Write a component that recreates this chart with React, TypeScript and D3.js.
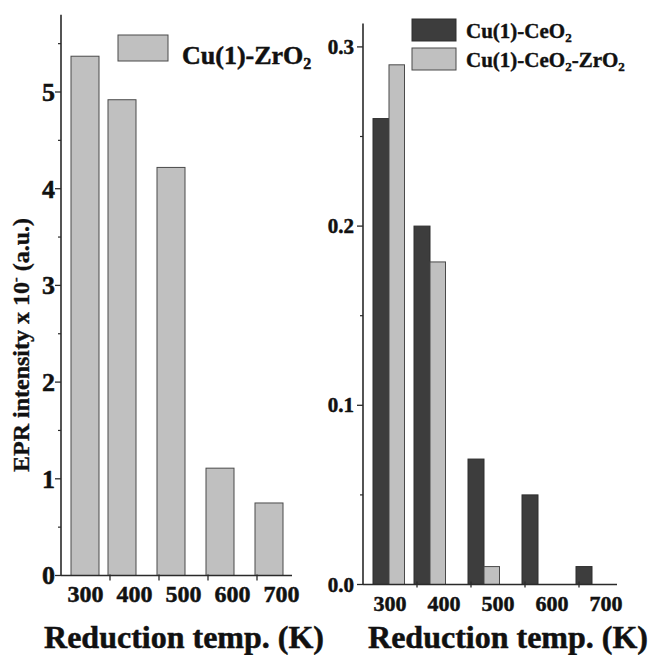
import React from "react";
import * as d3 from "d3";

// Reduction temperatures (K)
const temps = ["300", "400", "500", "600", "700"];

// EPR intensity, Cu(1)-ZrO2 (x 10^-)
const zrValues = [5.37, 4.92, 4.22, 1.11, 0.75];

// EPR intensity, ceria-based samples
const ceValues = [0.26, 0.2, 0.07, 0.05, 0.01];
const ceZrValues = [0.29, 0.18, 0.01, 0, 0];

const leftTicks = [0, 1, 2, 3, 4, 5];
const rightTicks = [0.0, 0.1, 0.2, 0.3];

const FONT = "'Liberation Serif', 'Times New Roman', serif";
const LIGHT = "#c0c0c0";
const DARK = "#3d3d3d";
const EDGE = "#4a4a4a";
const AXIS = "#2a2a2a";
const INK = "#111";

export default function App() {
  // ---- left panel ----
  const lAxisX = 61;
  const lAxisEnd = 292;
  const lBase = 575.5;
  const yL = d3.scaleLinear().domain([0, 5.8]).range([lBase, lBase - 5.8 * 96.7]);
  const xL = d3.scaleBand().domain(temps).range([lAxisX, lAxisX + 5 * 49]);
  const lMinor = d3.range(0.5, 5.8, 1);
  const lBarW = 28;

  // ---- right panel ----
  const rAxisX = 363;
  const rAxisEnd = 617;
  const rBase = 584.5;
  const yR = d3.scaleLinear().domain([0, 0.313]).range([rBase, rBase - 0.313 * 1792]);
  const xR = d3.scaleBand().domain(temps).range([rAxisX, rAxisX + 5 * 54]);
  const rMinor = [0.05, 0.15, 0.25];
  const rBarW = 16;

  // bars sit at the band start but are kept clear of the y axis
  const barLeftL = (t: string) => Math.max((xL(t) as number) - 2, lAxisX + 10);
  const barLeftR = (t: string) => Math.max((xR(t) as number) - 3, rAxisX + 10);

  // heavier glyphs for all labels
  const ink = { fill: INK, stroke: INK, strokeWidth: 0.5 };

  return (
    <div style={{ position: "absolute", left: 0, top: 0 }}>
      <svg width={652} height={655} style={{ display: "block", background: "#fff" }} fontFamily={FONT} fontWeight="bold">
        {/* ===== Left: Cu(1)-ZrO2 ===== */}
        {zrValues.map((v, i) => (
          <rect
            key={"zr" + i}
            x={barLeftL(temps[i])}
            y={yL(v)}
            width={lBarW}
            height={lBase - yL(v)}
            fill={LIGHT}
            stroke={EDGE}
            strokeWidth={1}
          />
        ))}
        <line x1={lAxisX} x2={lAxisX} y1={yL(5.8)} y2={lBase} stroke={AXIS} strokeWidth={1.6} />
        <line x1={lAxisX} x2={lAxisEnd} y1={lBase} y2={lBase} stroke={AXIS} strokeWidth={1.6} />
        {leftTicks.map((t) => (
          <g key={"lt" + t}>
            <line x1={lAxisX - 6} x2={lAxisX} y1={yL(t)} y2={yL(t)} stroke={AXIS} strokeWidth={1.3} />
            <text x={lAxisX - 6} y={yL(t)} dy="0.34em" textAnchor="end" fontSize={26} {...ink}>
              {d3.format("d")(t)}
            </text>
          </g>
        ))}
        {lMinor.map((t) => (
          <line key={"lm" + t} x1={lAxisX - 3} x2={lAxisX} y1={yL(t)} y2={yL(t)} stroke={AXIS} strokeWidth={1.2} />
        ))}
        {temps.slice(1).map((t) => (
          <line key={"lxt" + t} x1={xL(t)} x2={xL(t)} y1={lBase - 1} y2={lBase + 5} stroke={AXIS} strokeWidth={1.3} />
        ))}
        {temps.map((t) => (
          <text key={"lxl" + t} x={(xL(t) as number) + xL.bandwidth() / 2} y={602} textAnchor="middle" fontSize={24} {...ink}>
            {t}
          </text>
        ))}
        <text x={184} y={648} textAnchor="middle" fontSize={32} {...ink}>
          Reduction temp. (K)
        </text>
        <text transform="translate(29,345) rotate(-90)" textAnchor="middle" fontSize={24} {...ink} strokeWidth={0.35}>
          EPR intensity x 10
          <tspan fontSize={14} dy={-9}>-</tspan>
          <tspan dy={9}> (a.u.)</tspan>
        </text>
        {/* legend */}
        <rect x={118} y={35} width={50} height={26} fill={LIGHT} stroke={EDGE} strokeWidth={1} />
        <text x={182} y={64} fontSize={26} {...ink}>
          Cu(1)-ZrO<tspan fontSize={16} dy={5}>2</tspan>
        </text>

        {/* ===== Right: ceria-based samples ===== */}
        {ceValues.map((v, i) => (
          <rect
            key={"ce" + i}
            x={barLeftR(temps[i])}
            y={yR(v)}
            width={rBarW}
            height={rBase - yR(v)}
            fill={DARK}
            stroke="#2e2e2e"
            strokeWidth={1}
          />
        ))}
        {ceZrValues.map((v, i) =>
          v > 0 ? (
            <rect
              key={"cz" + i}
              x={barLeftR(temps[i]) + rBarW}
              y={yR(v)}
              width={rBarW - 0.5}
              height={rBase - yR(v)}
              fill={LIGHT}
              stroke={EDGE}
              strokeWidth={1}
            />
          ) : null
        )}
        <line x1={rAxisX} x2={rAxisX} y1={yR(0.313)} y2={rBase} stroke={AXIS} strokeWidth={1.6} />
        <line x1={rAxisX} x2={rAxisEnd} y1={rBase} y2={rBase} stroke={AXIS} strokeWidth={1.6} />
        {rightTicks.map((t) => (
          <g key={"rt" + t}>
            <line x1={rAxisX - 6} x2={rAxisX} y1={yR(t)} y2={yR(t)} stroke={AXIS} strokeWidth={1.3} />
            <text x={rAxisX - 9} y={yR(t)} dy="0.34em" textAnchor="end" fontSize={21} {...ink}>
              {d3.format(".1f")(t)}
            </text>
          </g>
        ))}
        {rMinor.map((t) => (
          <line key={"rm" + t} x1={rAxisX - 3} x2={rAxisX} y1={yR(t)} y2={yR(t)} stroke={AXIS} strokeWidth={1.2} />
        ))}
        {temps.slice(1).map((t) => (
          <line key={"rxt" + t} x1={xR(t)} x2={xR(t)} y1={rBase - 3} y2={rBase + 3} stroke={AXIS} strokeWidth={1.3} />
        ))}
        {temps.map((t) => (
          <text key={"rxl" + t} x={(xR(t) as number) + xR.bandwidth() / 2} y={611} textAnchor="middle" fontSize={22} {...ink}>
            {t}
          </text>
        ))}
        <text x={508} y={648} textAnchor="middle" fontSize={32} {...ink}>
          Reduction temp. (K)
        </text>
        {/* legend */}
        <rect x={412} y={19} width={44} height={22} fill={DARK} stroke="#2e2e2e" strokeWidth={1} />
        <rect x={412} y={48} width={44} height={22} fill={LIGHT} stroke={EDGE} strokeWidth={1} />
        <text x={466} y={38} fontSize={21} {...ink} strokeWidth={0.4}>
          Cu(1)-CeO<tspan fontSize={13} dy={4}>2</tspan>
        </text>
        <text x={466} y={67} fontSize={21} {...ink} strokeWidth={0.4}>
          Cu(1)-CeO<tspan fontSize={13} dy={4}>2</tspan>
          <tspan dy={-4}>-ZrO</tspan>
          <tspan fontSize={13} dy={4}>2</tspan>
        </text>
      </svg>
    </div>
  );
}
